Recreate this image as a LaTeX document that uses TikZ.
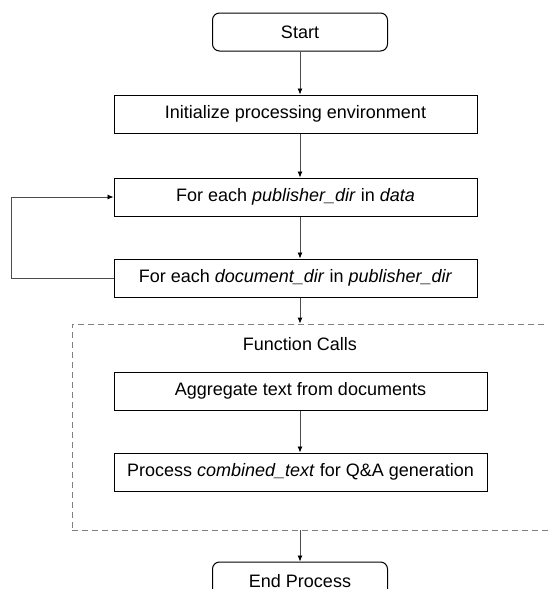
\documentclass[tikz,border=0pt]{standalone}
\usepackage{fontspec}
\setmainfont{Liberation Sans}
\usetikzlibrary{positioning,arrows.meta}

\begin{document}
\begin{tikzpicture}[
    x=1pt, y=-1pt,
    font=\fontsize{18}{21}\selectfont,
    term/.style={rectangle, draw, line width=1pt, rounded corners=7pt, minimum width=175pt, minimum height=38pt, inner sep=0pt},
    stepbox/.style={rectangle, draw, line width=1pt, minimum width=363pt, minimum height=38pt, inner sep=0pt},
    callbox/.style={stepbox, minimum width=373pt},
    cluster/.style={rectangle, draw=gray, line width=0.8pt, dash pattern=on 6pt off 4pt, minimum width=488pt, minimum height=206pt},
    arrow/.style={-{Latex[length=6pt,width=5pt,color=black]}, draw=gray!60!black, line width=0.8pt}
]
    \useasboundingbox (0,0) rectangle (548,589);
    \clip (0,0) rectangle (548,589);

    \node[term] (start) at (300,32) {Start};
    \node[stepbox, below=43pt of start, xshift=-4.5pt] (init) {Initialize processing environment};
    \node[stepbox, below=44pt of init] (publoop) {For each \textit{publisher\_dir} in \textit{data}};
    \node[stepbox, below=42pt of publoop] (docloop) {For each \textit{document\_dir} in \textit{publisher\_dir}};

    % function calls group
    \node[cluster] (calls) at (316,427) {};
    \node (callstitle) at (300,344) {Function Calls};
    \node[callbox, below=74pt of docloop, xshift=5pt] (aggregate) {Aggregate text from documents};
    \node[callbox, below=42pt of aggregate] (process) {Process \textit{combined\_text} for Q\&A generation};

    \node[term, below=70pt of process, xshift=-0.5pt] (finish) {End Process};

    \draw[arrow] (start.south) -- (init.north -| start.south);
    \draw[arrow] (init.south -| start.south) -- (publoop.north -| start.south);
    \draw[arrow] (publoop.south -| start.south) -- (docloop.north -| start.south);
    \draw[arrow] (docloop.south -| start.south) -- (calls.north -| start.south);
    \draw[arrow] (aggregate.south -| start.south) -- (process.north -| start.south);
    \draw[arrow] (calls.south -| start.south) -- (finish.north -| start.south);
    \draw[arrow] (docloop.west) -- ++(-102,0) |- (publoop.west);
\end{tikzpicture}
\end{document}
